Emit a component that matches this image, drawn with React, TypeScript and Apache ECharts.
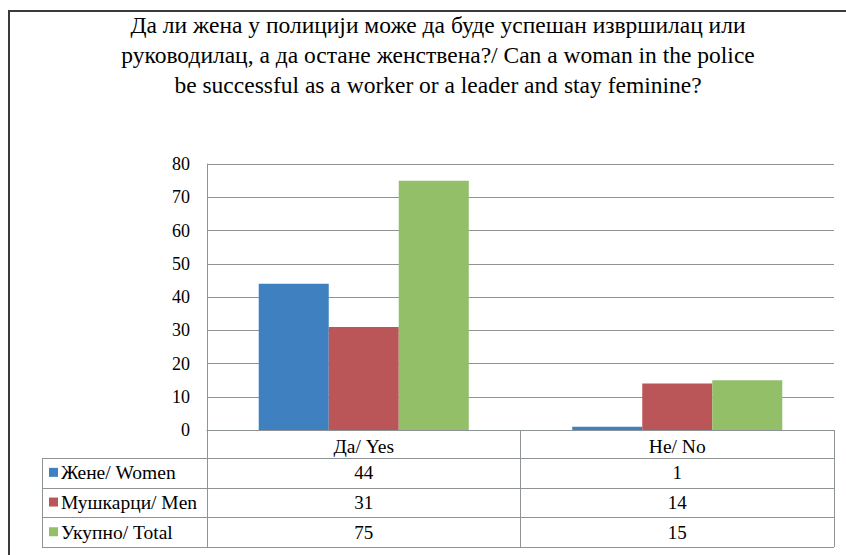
import React, { useEffect, useRef } from "react";
import * as echarts from "echarts";

const titleLines = [
  "Да ли жена у полицији може да буде успешан извршилац или",
  "руководилац, а да остане женствена?/ Can a woman in the police",
  "be successful as a worker or a leader and stay feminine?",
];
const categories = ["Да/ Yes", "Не/ No"];
const seriesNames = ["Жене/ Women", "Мушкарци/ Men", "Укупно/ Total"];
const women = [44, 1];
const men = [31, 14];
const total = [75, 15];
const seriesColors = ["#3F81C0", "#BA5658", "#92BF68"];

const FONT = "Liberation Serif";
const GRAY = "#8E9496";

export default function App() {
  const ref = useRef<HTMLDivElement>(null);
  useEffect(() => {
    if (!ref.current) return;
    const chart = echarts.init(ref.current, undefined, { renderer: "svg" });
    const values = [women, men, total];
    const gridLeft = 207;
    const gridRight = 834;
    const gridTop = 164;
    const gridBottom = 430;
    chart.setOption({
      animation: false,
      backgroundColor: "#ffffff",
      title: {
        text: titleLines.join("\n"),
        left: 433,
        textAlign: "center",
        top: 5,
        textStyle: {
          fontFamily: FONT,
          fontSize: 23.5,
          fontWeight: "normal",
          color: "#000",
          lineHeight: 30,
        },
      },
      grid: {
        left: gridLeft,
        right: 846 - gridRight,
        top: gridTop,
        bottom: 555 - gridBottom,
        containLabel: false,
      },
      xAxis: {
        type: "category",
        data: categories,
        axisLine: { show: true, lineStyle: { color: GRAY, width: 1 } },
        axisTick: {
          show: true,
          alignWithLabel: false,
          length: 117,
          lineStyle: { color: GRAY, width: 1 },
        },
        axisLabel: {
          fontFamily: FONT,
          fontSize: 19.5,
          color: "#000",
          margin: 6,
        },
      },
      yAxis: {
        type: "value",
        min: 0,
        max: 80,
        interval: 10,
        axisLine: { show: true, lineStyle: { color: GRAY, width: 1 } },
        axisTick: { show: false },
        splitLine: { show: true, lineStyle: { color: GRAY, width: 1 } },
        axisLabel: {
          fontFamily: FONT,
          fontSize: 18,
          color: "#000",
          margin: 17,
        },
      },
      series: seriesNames.map((name, i) => ({
        name,
        type: "bar",
        data: values[i],
        barGap: "0%",
        barCategoryGap: "33%",
        itemStyle: { color: seriesColors[i] },
      })),
    });

    const rowTop = 458;
    const rowH = 29.7;
    const tableLeft = 42;
    const graphics: any[] = [];
    graphics.push({
      type: "rect",
      shape: { x: 9, y: 11, width: 1000, height: 1000 },
      style: { fill: "none", stroke: "#3A3A3A", lineWidth: 2 },
      silent: true,
    });
    for (let r = 0; r <= seriesNames.length; r++) {
      const y = Math.round(rowTop + r * rowH) + 0.5;
      graphics.push({
        type: "line",
        shape: { x1: tableLeft, y1: y, x2: gridRight, y2: y },
        style: { stroke: GRAY, lineWidth: 1 },
        silent: true,
      });
    }
    graphics.push({
      type: "line",
      shape: {
        x1: tableLeft + 0.5,
        y1: rowTop,
        x2: tableLeft + 0.5,
        y2: Math.round(rowTop + seriesNames.length * rowH) + 0.5,
      },
      style: { stroke: GRAY, lineWidth: 1 },
      silent: true,
    });
    seriesNames.forEach((name, r) => {
      const cy = rowTop + (r + 0.5) * rowH;
      graphics.push({
        type: "rect",
        shape: { x: 49, y: cy - 5, width: 9, height: 9 },
        style: { fill: seriesColors[r] },
        silent: true,
      });
      graphics.push({
        type: "text",
        x: 61,
        y: cy,
        style: {
          text: name,
          fontFamily: FONT,
          fontSize: 19.5,
          fill: "#000",
          textAlign: "left",
          textVerticalAlign: "middle",
        },
        silent: true,
      });
      categories.forEach((c, ci) => {
        const px = chart.convertToPixel({ xAxisIndex: 0 }, c) as number;
        graphics.push({
          type: "text",
          x: px,
          y: cy,
          style: {
            text: String(values[r][ci]),
            fontFamily: FONT,
            fontSize: 19,
            fill: "#000",
            textAlign: "center",
            textVerticalAlign: "middle",
          },
          silent: true,
        });
      });
    });
    chart.setOption({ graphic: graphics });
    return () => chart.dispose();
  }, []);
  return (
    <div
      ref={ref}
      style={{ position: "absolute", left: 0, top: 0, width: 846, height: 555 }}
    />
  );
}
